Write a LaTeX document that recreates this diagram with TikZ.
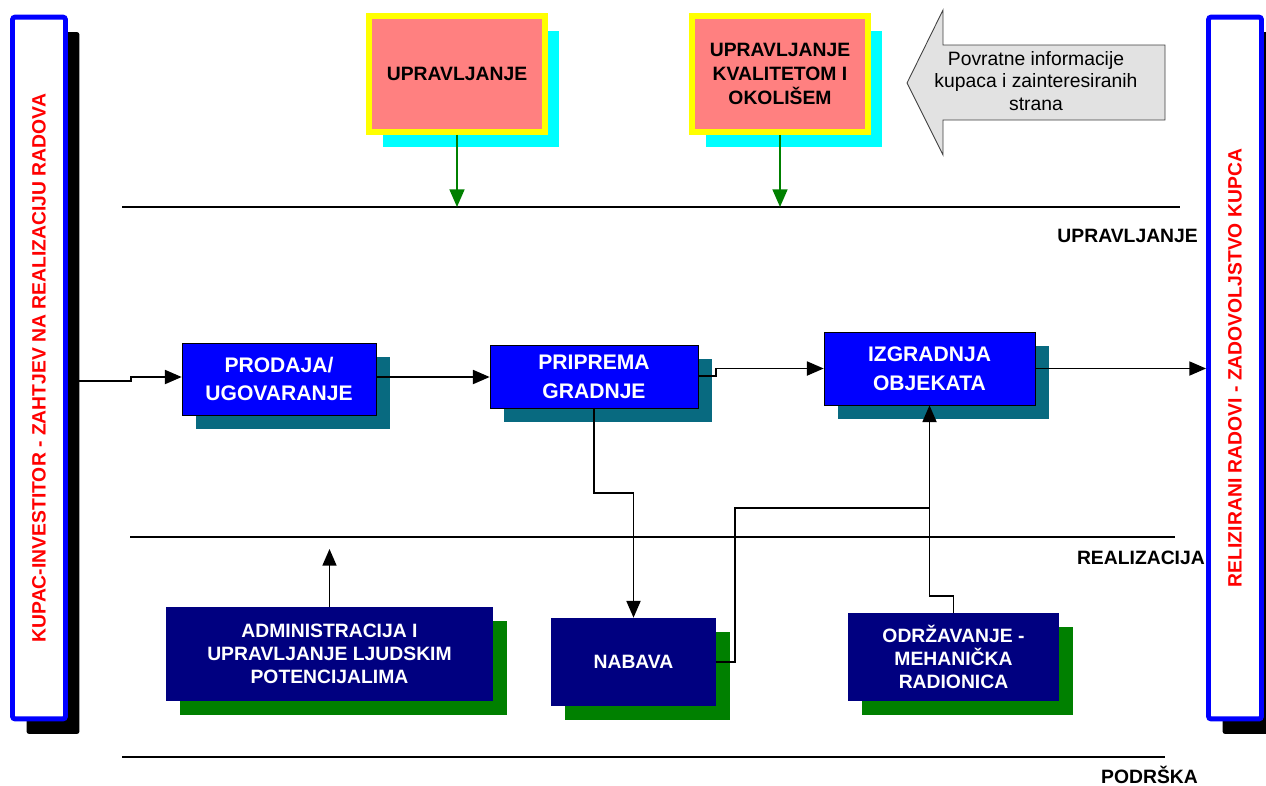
\documentclass[tikz,border=0pt]{standalone}
\usepackage{fontspec}
\setmainfont{Liberation Sans}
\usepackage{tikz}
\usetikzlibrary{positioning, arrows.meta, shadows}
\definecolor{procblue}{RGB}{0, 0, 255}
\definecolor{procshade}{RGB}{8, 106, 128}
\definecolor{supnavy}{RGB}{0, 0, 128}
\definecolor{supshade}{RGB}{0, 128, 0}
\definecolor{mgmtpink}{RGB}{255, 128, 128}
\definecolor{mgmtshade}{RGB}{0, 255, 255}
\definecolor{mgmtframe}{RGB}{255, 255, 0}
\definecolor{feedgrey}{RGB}{226, 226, 226}

\begin{document}
\begin{tikzpicture}[
    x=0.02cm, y=-0.02cm,
    arr/.style={-{Triangle[length=9.5pt, width=8pt]}, line width=0.9pt},
    garr/.style={-{Triangle[length=10pt, width=8.5pt]}, line width=0.9pt, draw=supshade, fill=supshade},
    sidebar/.style={draw=procblue, line width=2.8pt, fill=white, rounded corners=1.5pt, minimum width=1.06cm, minimum height=14.04cm,
        general shadow={fill=black, shadow xshift=0.28cm, shadow yshift=-0.3cm}},
    sidetext/.style={rotate=90, text=red, font=\bfseries\fontsize{11}{12}\selectfont},
    mgmt/.style={draw=mgmtframe, line width=3.4pt, fill=mgmtpink, minimum width=3.52cm, minimum height=2.32cm, align=center,
        font=\bfseries\fontsize{11}{13.6}\selectfont, general shadow={fill=mgmtshade, shadow xshift=0.28cm, shadow yshift=-0.3cm}},
    proc/.style={draw=black, thin, fill=procblue, text=white, align=center, font=\bfseries\fontsize{12}{16.4}\selectfont,
        general shadow={fill=procshade, shadow xshift=0.28cm, shadow yshift=-0.28cm}},
    support/.style={fill=supnavy, text=white, align=center, font=\bfseries\fontsize{11}{13}\selectfont,
        general shadow={fill=supshade, shadow xshift=0.28cm, shadow yshift=-0.28cm}},
    zone/.style={anchor=east, font=\bfseries\fontsize{11}{12}\selectfont}
]
    \useasboundingbox (0,0) rectangle (1266,785);

    \node[sidebar] (kupac) at (39,368) {};
    \node[sidetext] (kupactext) at (kupac) {KUPAC-INVESTITOR - ZAHTJEV NA REALIZACIJU RADOVA};
    \node[sidebar] (relizirani) at (1235,368) {};
    \node[sidetext] (relizitext) at (relizirani) {RELIZIRANI RADOVI - ZADOVOLJSTVO KUPCA};

    \node[mgmt] (upravljanje) at (457,74) {UPRAVLJANJE};
    \node[mgmt] (kvaliteta) at (780,74) {UPRAVLJANJE\\KVALITETOM I\\OKOLIŠEM};

    \draw[draw=black!75, fill=feedgrey, line width=0.5pt] (907,83) -- (943,10) -- (943,45) -- (1165,45)
        -- (1165,120) -- (943,120) -- (943,155) -- cycle;
    \node[align=center, font=\fontsize{11}{13}\selectfont] (povratne) at (1036,81) {Povratne informacije\\kupaca i zainteresiranih\\strana};

    \draw[line width=0.6pt] (122,207) -- (1180,207);
    \draw[line width=0.6pt] (130,537) -- (1175,537);
    \draw[line width=0.6pt] (122,757) -- (1165,757);
    \node[zone] (zupr) at (1204,236) {UPRAVLJANJE};
    \node[zone] (zreal) at (1211,558) {REALIZACIJA};
    \node[zone] (zpod) at (1204,775) {PODRŠKA};

    \draw[garr] (upravljanje.south) -- (upravljanje.south |- 0,207);
    \draw[garr] (kvaliteta.south) -- (kvaliteta.south |- 0,207);

    \node[proc, minimum width=3.88cm, minimum height=1.44cm] (prodaja) at (279,379) {PRODAJA/\\UGOVARANJE};
    \node[proc, minimum width=4.16cm, minimum height=1.26cm] (priprema) at (594,376.5) {PRIPREMA\\GRADNJE};
    \node[proc, minimum width=4.22cm, minimum height=1.46cm] (izgradnja) at (929.5,368.5) {IZGRADNJA\\OBJEKATA};

    \node[support, minimum width=6.54cm, minimum height=1.88cm] (admin) at (329.5,654) {ADMINISTRACIJA I\\UPRAVLJANJE LJUDSKIM\\POTENCIJALIMA};
    \node[support, minimum width=3.3cm, minimum height=1.76cm] (nabava) at (633.5,662) {NABAVA};
    \node[support, minimum width=4.22cm, minimum height=1.76cm] (odrzavanje) at (953.5,657) {ODRŽAVANJE -\\MEHANIČKA\\RADIONICA};

    \coordinate (join) at (929.5,508);
    \coordinate (adminup) at (329.5,549);

    \draw[arr] (kupac.east |- 0,381) -- (131,381) -- (131,377) -- (prodaja.west |- 0,377);
    \draw[arr] (prodaja.east |- 0,377) -- (priprema.west |- 0,377);
    \draw[arr] (priprema.east |- 0,376) -- (716,376) |- (izgradnja.west);
    \draw[arr] (izgradnja.east) -- (relizirani.west |- izgradnja.east);
    \draw[arr] (priprema.south) -- (594,493) -| (nabava.north);
    \draw[arr] (nabava.east) -| (735,508) -- (join) -- (izgradnja.south);
    \draw[line width=0.9pt] (odrzavanje.north) -- (953.5,596) -| (join);
    \draw[arr] (admin.north) -- (adminup);
\end{tikzpicture}
\end{document}
